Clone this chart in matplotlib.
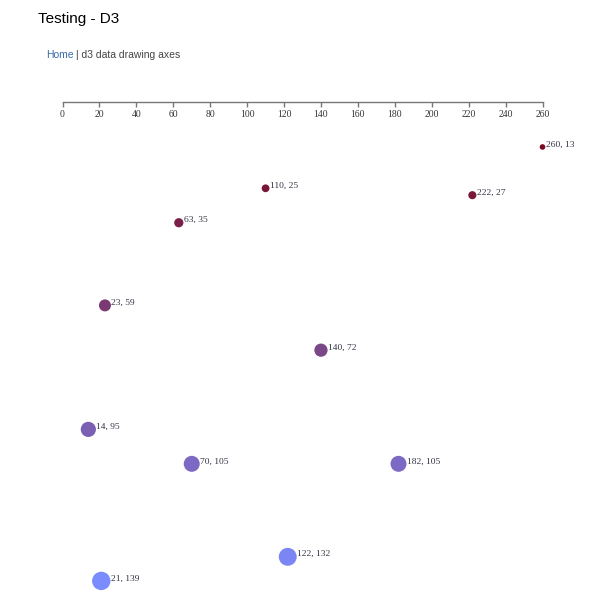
import numpy as np
import matplotlib
matplotlib.use("Agg")
import matplotlib.pyplot as plt
from matplotlib.colors import LinearSegmentedColormap, Normalize

# data points (x, y) as labelled in the picture
xs = [260, 110, 222, 63, 23, 140, 14, 70, 182, 122, 21]
ys = [13, 25, 27, 35, 59, 72, 95, 105, 105, 132, 139]
ticks = list(range(0, 261, 20))

W, H = 602, 616
fig = plt.figure(figsize=(W / 100, H / 100), dpi=100)

# page header
fig.text(38 / W, 1 - 22.5 / H, "Testing - D3", family="Liberation Sans",
         fontsize=11, color="black", va="baseline")
fig.text(46.5 / W, 1 - 58.5 / H, "Home", family="Liberation Sans",
         fontsize=7.5, color="#3a6aa8", va="baseline")
fig.text(75.5 / W, 1 - 58.5 / H, "| d3 data drawing axes", family="Liberation Sans",
         fontsize=7.5, color="#444444", va="baseline")

# plot area: x 0..260 over px 62..542, y=0 at px ~102, 3.444 px per unit
y0_px = 102.2
ppu = 3.444
ytop = -0.5
ymax = 145
top_px = y0_px + ytop * ppu
bot_px = y0_px + ymax * ppu
ax = fig.add_axes([62.5 / W, 1 - bot_px / H, 480 / W, (bot_px - top_px) / H])
ax.set_xlim(0, 260)
ax.set_ylim(ymax, ytop)

for s in ["top", "left", "right"]:
    ax.spines[s].set_visible(False)
ax.spines["bottom"].set_position(("data", 0))
ax.spines["bottom"].set_color("#777777")
ax.spines["bottom"].set_linewidth(1)
ax.set_yticks([])
ax.set_xticks(ticks)
ax.set_xticklabels([str(t) for t in ticks], family="Liberation Serif",
                   fontsize=6.9, color="#333333")
ax.tick_params(axis="x", direction="out", length=3.3, width=1,
               color="#777777", pad=2.0)

cmap = LinearSegmentedColormap.from_list("d3", ["#7a0a22", "#7b8cff"])
norm = Normalize(13, 139)

px_per_pt = 100 / 72
for x, y in zip(xs, ys):
    r = 0.78 * np.sqrt(y)  # radius in px
    ax.scatter([x], [y], s=(2 * r / px_per_pt) ** 2, color=cmap(norm(y)),
               edgecolors="none", zorder=3, clip_on=False)
    ax.annotate(f"{x}, {y}", (x, y), xytext=((r + 0.5) / px_per_pt, 0.5 / px_per_pt),
                textcoords="offset points", family="Liberation Serif",
                fontsize=6.8, color="#333344", va="baseline", ha="left",
                annotation_clip=False)

fig.savefig("out.png", dpi=100)
